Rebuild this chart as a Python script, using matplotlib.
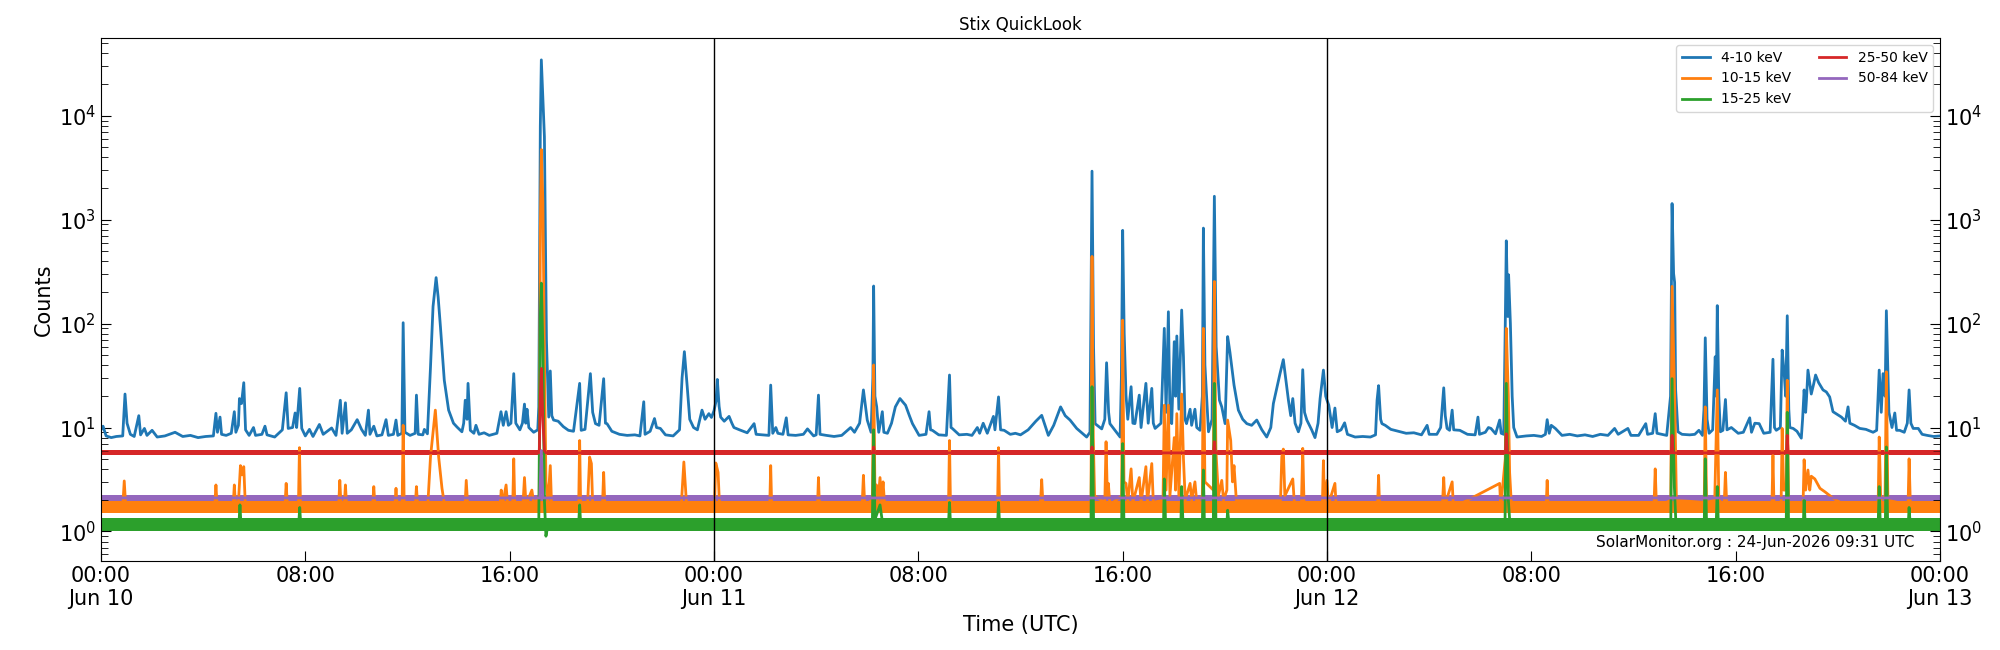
import numpy as np
import matplotlib
matplotlib.use("Agg")
import matplotlib.pyplot as plt
import matplotlib.dates as mdates
from matplotlib.ticker import FuncFormatter

# hours since 2026-06-10 00:00 UTC, counts
start = np.datetime64('2026-06-10T00:00')

blue_pts = [
    (0.00, 9.5), (0.08, 10.3), (0.2, 8.3), (0.4, 8.0), (0.6, 8.2), (0.85, 8.3), (0.94, 21), (1.02, 11),
    (1.15, 8.6), (1.3, 8.2), (1.48, 13), (1.55, 8.5), (1.7, 9.8), (1.8, 8.4), (2.0, 9.4), (2.2, 8.1),
    (2.5, 8.3), (2.9, 9.0), (3.2, 8.2), (3.5, 8.4), (3.8, 8.0), (4.1, 8.2), (4.4, 8.3), (4.5, 13.7),
    (4.56, 9.0), (4.66, 12.6), (4.72, 8.6), (4.9, 8.4), (5.1, 8.8), (5.22, 14.2), (5.28, 9.0), (5.38, 10.5),
    (5.42, 19), (5.5, 17), (5.59, 27), (5.66, 9.5), (5.8, 8.4), (5.97, 10), (6.05, 8.4), (6.3, 8.6),
    (6.42, 10.3), (6.5, 8.5), (6.8, 8.1), (7.1, 9.5), (7.25, 21.6), (7.33, 9.8), (7.5, 10), (7.6, 13.8),
    (7.66, 10), (7.78, 23.8), (7.86, 9.8), (8.0, 8.3), (8.16, 9.6), (8.3, 8.2), (8.55, 10.7), (8.7, 8.6),
    (9.03, 9.9), (9.2, 8.4), (9.37, 18.3), (9.44, 8.8), (9.57, 17.3), (9.64, 8.8), (9.8, 9.5), (10.03, 11.9),
    (10.2, 9.6), (10.35, 8.4), (10.47, 14.7), (10.53, 8.6), (10.68, 10.3), (10.8, 8.3), (11.0, 8.5),
    (11.16, 11.9), (11.25, 8.4), (11.45, 8.6), (11.55, 11.8), (11.62, 8.4), (11.78, 8.8), (11.83, 102),
    (11.9, 9.0), (12.1, 8.4), (12.3, 8.8), (12.35, 20.5), (12.42, 8.6), (12.6, 8.5), (12.66, 9.6),
    (12.78, 8.7), (12.9, 38), (13.0, 146), (13.12, 277), (13.2, 180), (13.29, 93), (13.44, 28.5),
    (13.61, 14.7), (13.8, 11), (13.94, 10.1), (14.13, 9.1), (14.2, 11), (14.26, 18.3), (14.33, 12),
    (14.37, 26.6), (14.46, 9.4), (14.6, 8.8), (14.68, 10.5), (14.8, 8.6), (15.0, 8.9), (15.2, 8.4),
    (15.5, 8.8), (15.66, 14.2), (15.75, 10.5), (15.86, 14.2), (15.95, 10.5), (16.05, 11), (16.16, 33),
    (16.24, 11), (16.4, 9.5), (16.5, 11), (16.58, 16.8), (16.63, 11), (16.68, 15), (16.75, 10), (16.94, 9.0),
    (17.1, 9.5), (17.14, 15.8), (17.2, 8000), (17.24, 34500), (17.3, 15000), (17.36, 6300), (17.44, 69),
    (17.53, 12.6), (17.59, 35), (17.65, 13), (17.72, 11.8), (17.9, 11.5), (18.1, 10.2), (18.3, 9.4),
    (18.5, 9.2), (18.74, 26.6), (18.8, 9.4), (18.95, 9.6), (19.1, 23), (19.16, 33), (19.25, 14),
    (19.36, 10.9), (19.5, 10.5), (19.68, 29.5), (19.75, 11), (19.81, 10.9), (20.0, 9.2), (20.3, 8.6),
    (20.6, 8.4), (20.9, 8.5), (21.1, 8.3), (21.25, 17.7), (21.3, 8.6), (21.5, 9.2), (21.67, 12.2),
    (21.75, 10), (21.9, 9.8), (22.1, 8.5), (22.4, 8.3), (22.65, 9.5), (22.75, 30), (22.84, 53.7),
    (22.95, 25), (23.05, 12), (23.2, 10), (23.35, 9.5), (23.53, 14.7), (23.65, 12), (23.8, 13.6),
    (23.9, 12.5), (24.0, 14.5),
    (24.08, 18), (24.13, 29), (24.2, 16), (24.26, 12.6), (24.4, 11.5), (24.59, 12.8), (24.7, 11),
    (24.78, 10), (25.0, 9.5), (25.3, 8.9), (25.57, 10.9), (25.65, 8.6), (25.9, 8.5), (26.15, 8.4),
    (26.22, 25.6), (26.3, 8.8), (26.42, 10), (26.5, 8.8), (26.7, 8.6), (26.83, 12.4), (26.9, 8.5),
    (27.2, 8.4), (27.5, 8.6), (27.66, 9.7), (27.9, 8.3), (28.0, 8.5), (28.09, 20.5), (28.15, 8.6),
    (28.4, 8.4), (28.7, 8.2), (29.0, 8.4), (29.35, 10), (29.5, 9.0), (29.7, 11), (29.85, 23), (30.0, 11.8),
    (30.15, 9), (30.22, 30), (30.25, 230), (30.3, 20), (30.37, 15.8), (30.45, 9), (30.59, 14.2), (30.65, 9),
    (30.79, 8.8), (30.95, 11), (31.1, 15.8), (31.28, 19), (31.5, 16.4), (31.65, 13), (31.77, 10.9),
    (32.03, 8.4), (32.3, 8.6), (32.42, 14.2), (32.48, 9.5), (32.55, 9.4), (32.8, 8.5), (33.1, 8.4),
    (33.22, 32), (33.28, 10), (33.33, 9.8), (33.6, 8.5), (33.9, 8.6), (34.1, 8.4), (34.31, 10), (34.4, 8.8),
    (34.54, 11), (34.7, 8.8), (34.94, 12.8), (35.0, 9.5), (35.14, 19.7), (35.22, 9.5), (35.36, 9.4),
    (35.6, 8.6), (35.8, 8.8), (36.0, 8.5), (36.3, 9.5), (36.6, 11.5), (36.83, 13.1), (37.09, 8.4),
    (37.3, 10.5), (37.57, 15.8), (37.75, 13), (37.94, 11.8), (38.2, 9.8), (38.59, 8.1), (38.72, 9),
    (38.8, 2930), (38.86, 60), (38.92, 10.9), (39.18, 9.7), (39.3, 12), (39.37, 42), (39.45, 14),
    (39.5, 10.9), (39.9, 8.1), (39.95, 30), (40.0, 790), (40.06, 80), (40.13, 20.5), (40.2, 12),
    (40.33, 24.7), (40.4, 11), (40.48, 10.9), (40.65, 20.5), (40.72, 10), (40.91, 26.6), (41.0, 11),
    (41.14, 23.8), (41.2, 11), (41.27, 9.8), (41.5, 11), (41.63, 90), (41.7, 14), (41.79, 130), (41.85, 14),
    (41.92, 10.9), (42.02, 67), (42.07, 20), (42.12, 76), (42.2, 15), (42.31, 135), (42.38, 48), (42.44, 12),
    (42.5, 10.9), (42.64, 15), (42.7, 10.5), (42.83, 15), (42.9, 10), (43.03, 9.4), (43.12, 20),
    (43.16, 830), (43.22, 40), (43.36, 9.1), (43.5, 12), (43.59, 1680), (43.66, 60), (43.79, 18.3),
    (43.88, 15.8), (44.01, 10.9), (44.11, 75), (44.2, 53), (44.36, 25.6), (44.53, 14.7), (44.7, 12),
    (44.86, 10.9), (45.05, 10.5), (45.25, 11.8), (45.45, 9.5), (45.64, 8.1), (45.8, 10), (45.9, 17),
    (46.16, 33), (46.29, 45), (46.49, 18.3), (46.58, 13), (46.66, 19), (46.75, 11), (46.88, 9.1),
    (46.98, 11), (47.05, 36), (47.12, 14), (47.21, 11.8), (47.4, 9.5), (47.53, 8), (47.65, 11), (47.73, 19),
    (47.86, 35.7), (47.95, 20), (48.0, 18.3),
    (48.07, 16.4), (48.2, 10), (48.31, 15.4), (48.4, 9.1), (48.55, 9.5), (48.69, 11.1), (48.8, 8.6),
    (49.1, 8.1), (49.4, 8.2), (49.7, 8.1), (49.9, 8.5), (49.96, 18.3), (50.02, 25.3), (50.1, 12),
    (50.15, 10.9), (50.28, 10.5), (50.5, 9.6), (50.8, 9.2), (51.1, 8.8), (51.4, 8.9), (51.7, 8.5),
    (51.92, 10.5), (52.0, 8.6), (52.3, 8.6), (52.45, 10), (52.57, 24.1), (52.63, 13), (52.7, 9.8),
    (52.8, 9.4), (52.9, 14.7), (52.96, 9.5), (53.2, 9.4), (53.5, 8.6), (53.8, 8.5), (53.91, 12.6),
    (53.97, 8.6), (54.2, 9.0), (54.32, 10), (54.42, 9.8), (54.6, 8.7), (54.76, 11.8), (54.82, 8.8),
    (54.92, 8.6), (54.98, 100), (55.02, 626), (55.08, 117), (55.11, 295), (55.18, 100), (55.25, 20),
    (55.31, 10), (55.44, 8.1), (55.8, 8.3), (56.1, 8.4), (56.4, 8.2), (56.55, 8.6), (56.62, 11.9),
    (56.7, 8.8), (56.78, 10.5), (56.94, 9.8), (57.2, 8.4), (57.5, 8.6), (57.8, 8.3), (58.1, 8.5),
    (58.4, 8.2), (58.7, 8.6), (59.0, 8.4), (59.26, 9.8), (59.4, 8.6), (59.78, 9.8), (59.9, 8.4),
    (60.2, 8.4), (60.48, 10.9), (60.55, 8.6), (60.75, 8.8), (60.85, 13.6), (60.92, 8.8), (61.1, 8.6),
    (61.3, 8.4), (61.45, 20), (61.51, 1430), (61.57, 303), (61.61, 250), (61.65, 23), (61.74, 9.1),
    (61.9, 8.6), (62.2, 8.5), (62.4, 8.6), (62.56, 9.4), (62.7, 8.4), (62.76, 15), (62.81, 73), (62.88, 12),
    (62.96, 8.8), (63.1, 9.5), (63.2, 48), (63.24, 20), (63.28, 149), (63.34, 20), (63.4, 9.1), (63.5, 9.4),
    (63.6, 18.6), (63.66, 9.5), (63.83, 10), (64.1, 8.8), (64.3, 9.0), (64.55, 12.4), (64.62, 9),
    (64.75, 11.0), (64.92, 10.9), (65.1, 8.8), (65.35, 9.0), (65.46, 45.4), (65.52, 10), (65.59, 9.4),
    (65.75, 10), (65.82, 55.6), (65.9, 33), (65.96, 20), (66.02, 119), (66.08, 15), (66.12, 10),
    (66.25, 9.8), (66.4, 9.2), (66.57, 7.9), (66.62, 12), (66.68, 23), (66.74, 14), (66.77, 18.3),
    (66.83, 35.7), (66.96, 21), (67.05, 26), (67.13, 32), (67.25, 27), (67.42, 23), (67.55, 22),
    (67.68, 19.7), (67.81, 14.2), (67.95, 13.5), (68.14, 12.6), (68.3, 11.5), (68.4, 15.8), (68.47, 11),
    (68.65, 10.5), (68.86, 9.8), (69.1, 9.6), (69.38, 9.0), (69.52, 9.4), (69.62, 35.7), (69.7, 14),
    (69.77, 33), (69.85, 20), (69.9, 133), (70.0, 14), (70.12, 10), (70.23, 13.8), (70.3, 9.4),
    (70.42, 9.4), (70.6, 9.0), (70.72, 11), (70.79, 23), (70.86, 11), (70.95, 9.8), (71.15, 9.8),
    (71.3, 8.6), (71.5, 8.4), (71.75, 8.2), (72.0, 8.3),
]

orange_pts = [
    (0, 1.7), (0.85, 1.7), (0.91, 3.06), (0.97, 1.7), (4.45, 1.7), (4.5, 2.8), (4.55, 1.7), (5.17, 1.7),
    (5.22, 2.8), (5.27, 1.7), (5.38, 1.9), (5.46, 4.3), (5.52, 3.5), (5.59, 4.2), (5.65, 1.8), (7.2, 1.7),
    (7.25, 2.9), (7.3, 1.7), (7.73, 1.8), (7.77, 6.4), (7.81, 1.8), (9.3, 1.7), (9.35, 3.1), (9.4, 1.7),
    (9.52, 1.7), (9.57, 2.8), (9.62, 1.7), (10.63, 1.7), (10.68, 2.7), (10.73, 1.7), (11.5, 1.7),
    (11.55, 2.6), (11.6, 1.7), (11.79, 1.8), (11.83, 10.5), (11.87, 1.8), (12.3, 1.7), (12.35, 2.7),
    (12.4, 1.7), (12.8, 1.9), (12.9, 5.2), (13.0, 9), (13.09, 14.7), (13.22, 5.2), (13.35, 2.6),
    (13.45, 1.8), (14.25, 1.7), (14.3, 3.1), (14.36, 1.7), (15.62, 1.7), (15.67, 2.5), (15.72, 1.8),
    (15.86, 2.8), (15.92, 1.8), (16.12, 1.8), (16.16, 5.0), (16.2, 1.8), (16.52, 1.8), (16.58, 3.3),
    (16.64, 1.8), (16.87, 2.5), (16.95, 1.8), (17.16, 2.2), (17.2, 800), (17.24, 4730), (17.3, 1500),
    (17.36, 50), (17.42, 3), (17.5, 1.9), (17.59, 4.3), (17.64, 1.8), (18.7, 1.7), (18.74, 7.5),
    (18.78, 1.7), (19.05, 1.8), (19.13, 5.2), (19.2, 4.5), (19.25, 1.8), (19.63, 1.7), (19.68, 3.7),
    (19.73, 1.7), (22.72, 1.8), (22.82, 4.66), (22.92, 1.9), (23.0, 1.7), (24.02, 1.8), (24.07, 4.56),
    (24.16, 3.7), (24.22, 1.7), (26.18, 1.7), (26.22, 4.3), (26.26, 1.7), (28.05, 1.7), (28.09, 3.3),
    (28.13, 1.7), (29.8, 1.8), (29.85, 3.47), (29.9, 1.8), (30.2, 2), (30.25, 40), (30.3, 2.5),
    (30.36, 2.8), (30.42, 1.9), (30.5, 3.3), (30.56, 2.0), (30.62, 3.0), (30.68, 1.8), (33.18, 1.7),
    (33.22, 7.5), (33.26, 1.7), (35.1, 1.7), (35.14, 6.4), (35.18, 1.7), (36.78, 1.8), (36.83, 3.15),
    (36.88, 1.8), (38.76, 1.9), (38.8, 443), (38.85, 8), (38.9, 2.2), (39.3, 1.9), (39.35, 7.3),
    (39.4, 2.2), (39.44, 2.9), (39.5, 1.8), (39.96, 2.2), (40.0, 108), (40.05, 3), (40.13, 2.9),
    (40.2, 1.9), (40.33, 4.0), (40.4, 1.9), (40.65, 3.3), (40.72, 1.9), (40.91, 4.2), (40.97, 1.9),
    (41.14, 4.5), (41.2, 1.9), (41.58, 2.0), (41.63, 16.4), (41.7, 2.5), (41.79, 16.4), (41.85, 2.2),
    (42.02, 8), (42.07, 2.5), (42.12, 13.6), (42.2, 2.2), (42.31, 21), (42.38, 5), (42.45, 2.0),
    (42.64, 2.9), (42.7, 2.0), (42.83, 3.0), (42.9, 1.9), (43.12, 2.2), (43.16, 90), (43.22, 3),
    (43.55, 2.5), (43.59, 254), (43.65, 6), (43.75, 2.2), (43.88, 3.1), (43.95, 2.0), (44.08, 2.5),
    (44.11, 11.8), (44.23, 7.5), (44.3, 3), (44.36, 4.3), (44.45, 2.0), (46.18, 2.0), (46.23, 5.2),
    (46.29, 6.2), (46.35, 2.2), (46.66, 3.2), (46.72, 1.9), (47.0, 1.9), (47.05, 6.3), (47.1, 1.9),
    (47.82, 1.9), (47.86, 4.8), (47.9, 1.9), (48.0, 3.1), (48.05, 1.8), (48.31, 2.9), (48.36, 1.7),
    (49.98, 1.8), (50.02, 3.47), (50.06, 1.7), (52.52, 1.8), (52.57, 3.3), (52.62, 1.8), (52.9, 3.0),
    (52.95, 1.7), (54.76, 2.9), (54.8, 1.7), (54.98, 5), (55.02, 90), (55.1, 20), (55.15, 3.7),
    (55.22, 1.8), (56.58, 1.7), (56.62, 3.1), (56.66, 1.7), (60.8, 1.7), (60.85, 4.0), (60.9, 1.7),
    (61.46, 2), (61.51, 228), (61.58, 40), (61.61, 21), (61.68, 2), (62.77, 1.9), (62.81, 15.8),
    (62.86, 1.9), (63.18, 2.0), (63.22, 5.2), (63.28, 23), (63.34, 2.0), (63.55, 1.8), (63.6, 3.7),
    (63.65, 1.8), (65.42, 1.8), (65.46, 5.4), (65.5, 1.8), (65.78, 1.9), (65.82, 9.8), (65.88, 2.5),
    (65.98, 2.5), (66.02, 28.5), (66.07, 1.9), (66.64, 1.9), (66.68, 4.9), (66.74, 2.5), (66.83, 3.9),
    (66.9, 2.5), (66.96, 3.4), (67.1, 3.2), (67.3, 2.6), (67.5, 2.4), (67.8, 2.1), (68.1, 1.9),
    (69.58, 1.9), (69.62, 8.1), (69.68, 2), (69.85, 2.2), (69.9, 34.4), (69.96, 2), (70.75, 1.8),
    (70.79, 5.0), (70.84, 1.8), (72.0, 1.7),
]

green_pts = [
    (0, 1.17), (5.4, 1.17), (5.44, 1.8), (5.48, 1.17), (7.74, 1.17), (7.78, 1.7), (7.82, 1.17),
    (17.14, 1.2), (17.2, 120), (17.24, 245), (17.3, 60), (17.36, 2), (17.42, 0.9), (17.5, 1.15),
    (18.7, 1.17), (18.74, 1.8), (18.78, 1.17), (30.2, 1.2), (30.25, 9.5), (30.3, 1.3), (30.5, 1.8),
    (30.6, 1.2), (33.18, 1.17), (33.22, 1.9), (33.26, 1.17), (35.1, 1.17), (35.14, 1.9), (35.18, 1.17),
    (38.76, 1.2), (38.8, 24.7), (38.86, 1.3), (39.96, 1.2), (40.0, 7), (40.05, 1.2), (41.6, 1.2),
    (41.63, 3.2), (41.68, 1.2), (42.28, 1.2), (42.31, 2.7), (42.36, 1.2), (43.12, 1.2), (43.16, 3.9),
    (43.2, 1.2), (43.55, 1.3), (43.59, 26.6), (43.65, 1.3), (44.08, 1.2), (44.11, 1.6), (44.16, 1.2),
    (54.97, 1.2), (55.02, 26.6), (55.1, 2), (55.16, 1.2), (61.46, 1.2), (61.51, 29.5), (61.6, 2.7),
    (61.66, 1.2), (62.77, 1.2), (62.81, 5), (62.86, 1.2), (63.24, 1.2), (63.28, 2.7), (63.32, 1.2),
    (65.98, 1.2), (66.02, 14), (66.07, 1.2), (66.65, 1.2), (66.68, 2.0), (66.72, 1.2), (69.58, 1.2),
    (69.62, 2.7), (69.66, 1.2), (69.86, 1.2), (69.9, 6.5), (69.95, 1.2), (70.76, 1.2), (70.79, 1.7),
    (70.83, 1.2), (72, 1.17),
]

red_pts = [
    (0, 5.7), (17.16, 5.7), (17.2, 20), (17.24, 37), (17.3, 12), (17.36, 6), (17.42, 5.7),
    (30.22, 5.7), (30.25, 6.5), (30.28, 5.7), (38.77, 5.7), (38.8, 6.5), (38.83, 5.7), (43.56, 5.7),
    (43.59, 7.3), (43.62, 5.7), (54.99, 5.7), (55.02, 8.7), (55.06, 5.7), (61.48, 5.7), (61.51, 8.4),
    (61.55, 5.7), (65.99, 5.7), (66.02, 8.4), (66.05, 5.7), (72, 5.7),
]

purple_pts = [(0, 2.1), (17.18, 2.1), (17.24, 6.0), (17.3, 2.1), (72, 2.1)]

# spread of the background noise in each channel (low, high)
orange_noise = (1.5, 2.0)
green_noise = (1.02, 1.34)
red_noise = (5.45, 6.05)
purple_noise = (1.98, 2.24)

channels = ['4-10 keV', '10-15 keV', '15-25 keV', '25-50 keV', '50-84 keV']
colors = ['tab:blue', 'tab:orange', 'tab:green', 'tab:red', 'tab:purple']
series = [blue_pts, orange_pts, green_pts, red_pts, purple_pts]
noise = [None, orange_noise, green_noise, red_noise, purple_noise]


def to_time(hours):
    return start + (np.asarray(hours) * 3600).astype('timedelta64[s]')


fig, ax = plt.subplots(figsize=(20, 6.5), dpi=100)
fig.subplots_adjust(left=0.0505, right=0.970, bottom=0.137, top=0.9415)

t_full = to_time([0, 72])
for name, col, pts, band in zip(channels, colors, series, noise):
    h, v = zip(*pts)
    if band is not None:
        ax.fill_between(t_full, band[0], band[1], color=col, lw=0)
    ax.plot(to_time(h), v, color=col, lw=2.0, label=name)

# day boundaries
for d in [24, 48]:
    ax.axvline(to_time(d), color='k', lw=1)

ax.set_yscale('log')
ax.set_ylim(0.52, 5.6e4)
ax.set_xlim(to_time(0), to_time(72))

ax.xaxis.set_major_locator(mdates.HourLocator(byhour=[0, 8, 16]))


def fmt(x, pos):
    d = mdates.num2date(x)
    if d.hour == 0:
        return d.strftime('%H:%M\n%b %d')
    return d.strftime('%H:%M')


ax.xaxis.set_major_formatter(FuncFormatter(fmt))

ax.tick_params(axis='both', which='major', direction='in', length=7, labelsize=15)
ax.tick_params(axis='y', which='minor', direction='in', length=5)
ax.tick_params(axis='y', which='both', right=True, labelright=True)
ax.tick_params(axis='x', top=False)

ax.set_title('Stix QuickLook', fontsize=12)
ax.set_xlabel('Time (UTC)', fontsize=15)
ax.set_ylabel('Counts', fontsize=15)

ax.legend(loc='upper right', ncol=2, fontsize=10)
ax.text(0.986, 0.02, 'SolarMonitor.org : 24-Jun-2026 09:31 UTC', transform=ax.transAxes,
        ha='right', va='bottom', fontsize=11)

fig.savefig('out.png', dpi=100)
